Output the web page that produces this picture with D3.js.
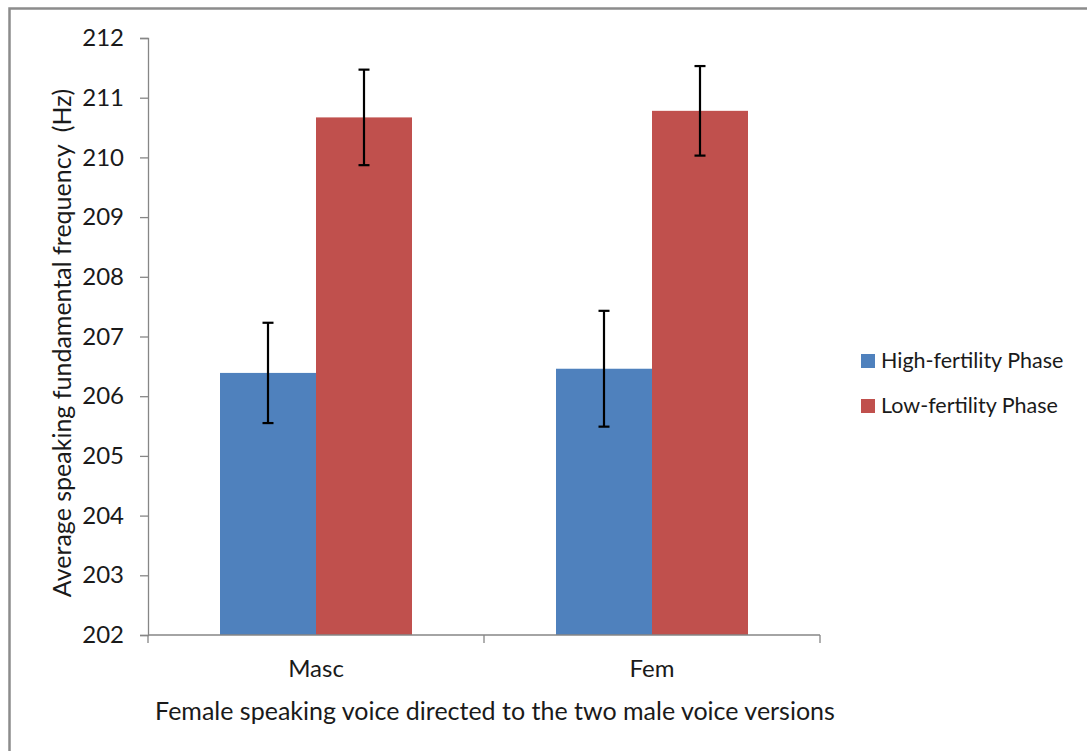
<!DOCTYPE html>
<html>
<head>
<meta charset="utf-8">
<script src="https://cdn.jsdelivr.net/npm/d3@7"></script>
<style>
  html, body { margin: 0; padding: 0; background: #fff; }
  svg { display: block; }
  text { font-family: Lato, "Open Sans", sans-serif; fill: #1a1a1a; }
</style>
</head>
<body>
<svg id="chart" width="1087" height="751"></svg>
<script>
const categories = ["Masc", "Fem"];
const seriesNames = ["High-fertility Phase", "Low-fertility Phase"];
const highValues = [206.39, 206.46];
const lowValues = [210.67, 210.78];
const highErrors = [0.84, 0.97];
const lowErrors = [0.80, 0.75];
const yTicks = [202, 203, 204, 205, 206, 207, 208, 209, 210, 211, 212];
const colors = ["#4F81BD", "#C0504D"];
const yTitle = "Average speaking fundamental frequency\u00A0\u00A0(Hz)";
const xTitle = "Female speaking voice directed to the two male voice versions";

(function () {
const svg = d3.select("#chart");
const axisColor = "#868686";

// outer border
svg.append("rect").attr("x", 9.5).attr("y", 8.5).attr("width", 1100).attr("height", 800)
  .attr("fill", "none").attr("stroke", "#8c8c8c").attr("stroke-width", 2.5);

const pLeft = 148, pRight = 820, pTop = 38, pBottom = 635;
const x0 = d3.scaleBand().domain(categories).range([pLeft, pRight]).paddingInner(0).paddingOuter(0);
const barW = x0.bandwidth() / 3.5;
const x1 = d3.scaleBand().domain(seriesNames).range([0, barW * 2]);
const y = d3.scaleLinear().domain([202, 212]).range([pBottom, pTop]);

const data = categories.map((c, i) => ({
  cat: c,
  vals: [
    { s: seriesNames[0], v: highValues[i], e: highErrors[i], c: colors[0] },
    { s: seriesNames[1], v: lowValues[i], e: lowErrors[i], c: colors[1] }
  ]
}));

const groups = svg.append("g").selectAll("g").data(data).join("g")
  .attr("transform", d => `translate(${x0(d.cat) + (x0.bandwidth() - barW * 2) / 2},0)`);

groups.selectAll("rect").data(d => d.vals).join("rect")
  .attr("x", d => x1(d.s))
  .attr("width", x1.bandwidth())
  .attr("y", d => y(d.v))
  .attr("height", d => y(202) - y(d.v))
  .attr("fill", d => d.c);

// error bars
const eb = groups.selectAll("g.err").data(d => d.vals).join("g").attr("class", "err");
eb.append("line")
  .attr("x1", d => x1(d.s) + x1.bandwidth() / 2).attr("x2", d => x1(d.s) + x1.bandwidth() / 2)
  .attr("y1", d => y(d.v + d.e)).attr("y2", d => y(d.v - d.e))
  .attr("stroke", "#000").attr("stroke-width", 2.2);
[1, -1].forEach(sg => {
  eb.append("line")
    .attr("x1", d => x1(d.s) + x1.bandwidth() / 2 - 5.5).attr("x2", d => x1(d.s) + x1.bandwidth() / 2 + 5.5)
    .attr("y1", d => y(d.v + sg * d.e)).attr("y2", d => y(d.v + sg * d.e))
    .attr("stroke", "#000").attr("stroke-width", 2.2);
});

// y axis
const yAxis = d3.axisLeft(y).tickValues(yTicks).tickSize(8).tickPadding(16).tickFormat(d3.format("d"));
const gy = svg.append("g").attr("transform", `translate(${pLeft},0)`).call(yAxis);
gy.select(".domain").attr("stroke", axisColor).attr("stroke-width", 1.3);
gy.selectAll(".tick line").attr("stroke", axisColor).attr("stroke-width", 1.3);
gy.selectAll(".tick text").attr("font-size", 24).attr("fill", "#1a1a1a")
  .attr("font-family", "Lato, sans-serif");

// x axis
const xAxis = d3.axisBottom(x0).tickSize(0).tickPadding(0);
const gx = svg.append("g").attr("transform", `translate(0,${pBottom})`).call(xAxis);
gx.select(".domain").remove();
gx.selectAll(".tick").remove();
gx.append("line").attr("x1", pLeft).attr("x2", pRight).attr("y1", 0).attr("y2", 0)
  .attr("stroke", axisColor).attr("stroke-width", 1.3);
const xTickPos = [pLeft, ...categories.map(c => x0(c) + x0.bandwidth())];
gx.selectAll("line.xt").data(xTickPos).join("line").attr("class", "xt")
  .attr("x1", d => d).attr("x2", d => d).attr("y1", 0).attr("y2", 8)
  .attr("stroke", axisColor).attr("stroke-width", 1.3);
gx.selectAll("text.cat").data(categories).join("text").attr("class", "cat")
  .attr("x", d => x0(d) + x0.bandwidth() / 2).attr("y", 42)
  .attr("text-anchor", "middle").attr("font-size", 24).text(d => d);

// axis titles
svg.append("text").attr("x", 495).attr("y", 720).attr("text-anchor", "middle")
  .attr("font-size", 25).text(xTitle);
svg.append("text").attr("transform", "translate(71,343) rotate(-90)")
  .attr("text-anchor", "middle").attr("font-size", 25).text(yTitle);

// legend
const lg = svg.append("g").selectAll("g").data(seriesNames).join("g")
  .attr("transform", (d, i) => `translate(861,${354 + i * 45})`);
lg.append("rect").attr("width", 14).attr("height", 14).attr("fill", (d, i) => colors[i]);
lg.append("text").attr("x", 20).attr("y", 14).attr("font-size", 21.5).text(d => d);
})();
</script>
</body>
</html>
